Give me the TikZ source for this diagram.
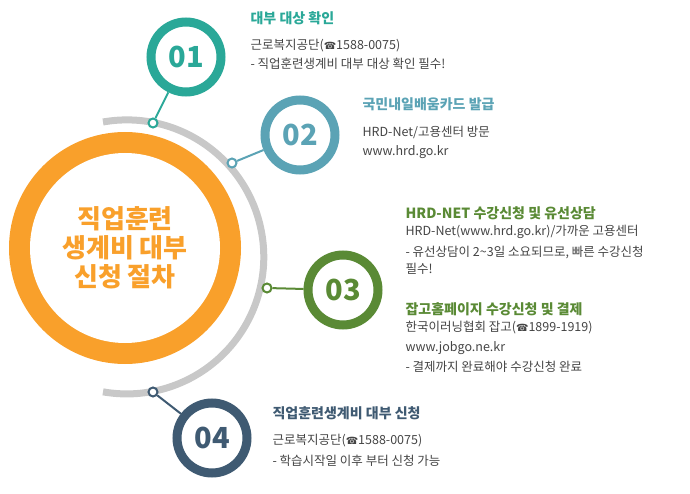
\documentclass[tikz,border=0pt]{standalone}
\usepackage{fontspec}
\setmainfont{Noto Sans CJK KR}
\newfontfamily\phonefont{DejaVu Sans}
\newfontfamily\heavyfont{Noto Sans CJK KR Black}
\definecolor{cteal}{HTML}{2AA898}
\definecolor{cblue}{HTML}{5BA3B5}
\definecolor{cgreen}{HTML}{5A8A35}
\definecolor{cnavy}{HTML}{3F5A72}
\definecolor{corange}{HTML}{F9A02B}
\definecolor{cgray}{HTML}{C8C8C8}
\definecolor{ctext}{HTML}{444444}
\newcommand{\ph}{{\phonefont\fontsize{10}{10}\selectfont☎}}
\begin{document}
\begin{tikzpicture}[x=1pt,y=-1pt,
 ring/.style={circle,line width=9pt,minimum size=70pt,inner sep=0pt,fill=white,font=\bfseries\fontsize{29}{29}\selectfont},
 dot/.style={circle,draw=#1,line width=2pt,fill=white,minimum size=9pt,inner sep=0pt},
 ttl/.style={anchor=west,font=\bfseries\fontsize{14}{16}\selectfont,text=#1},
 body/.style={anchor=west,font=\fontsize{12.5}{14}\selectfont,text=ctext}]
\useasboundingbox (0,0) rectangle (690,494);
\draw[cgray,line width=7pt] (103,122) arc[start angle=-100,end angle=100,radius=137] ;
\node[circle,fill=corange,minimum size=232pt,inner sep=0pt] (big) at (125,248) {};
\node[circle,fill=white,minimum size=190pt,inner sep=0pt,
 align=center,text=corange,font=\heavyfont\fontsize{26}{29}\selectfont] (bigin) at (125,248) {직업훈련\\생계비 대부\\신청 절차};
% circles
\node[ring,draw=cteal,text=cteal] (c1) at (186,57) {01};
\node[ring,draw=cblue,text=cblue] (c2) at (300,135) {02};
\node[ring,draw=cgreen,text=cgreen] (c3) at (343,290) {03};
\node[ring,draw=cnavy,text=cnavy] (c4) at (212,438) {04};
\node[dot=cteal] (d1) at (153,123) {};
\node[dot=cblue] (d2) at (232,163) {};
\node[dot=cgreen] (d3) at (267,288) {};
\node[dot=cnavy] (d4) at (153,392) {};
\draw[cteal,line width=2pt] (d1) -- (c1);
\draw[cblue,line width=2pt] (d2) -- (c2);
\draw[cgreen,line width=2pt] (d3) -- (c3);
\draw[cnavy,line width=2pt] (d4) -- (c4);
% texts
\node[ttl=cteal] (t1) at (247,18) {대부 대상 확인};
\node[body] (t1a) at (247,46) {근로복지공단(\ph1588-0075)};
\node[body] (t1b) at (247,64) {- 직업훈련생계비 대부 대상 확인 필수!};
\node[ttl=cblue] (t2) at (359,104) {국민내일배움카드 발급};
\node[body] (t2a) at (359,132) {HRD-Net/고용센터 방문};
\node[body] (t2b) at (359,152) {www.hrd.go.kr};
\node[ttl=cgreen] (t3) at (402,213) {HRD-NET 수강신청 및 유선상담};
\node[body] (t3a) at (402,232) {HRD-Net(www.hrd.go.kr)/가까운 고용센터};
\node[body] (t3b) at (402,252) {- 유선상담이 2\textasciitilde3일 소요되므로, 빠른 수강신청};
\node[body] (t3c) at (402,269) {필수!};
\node[ttl=cgreen] (t5) at (402,309) {잡고홈페이지 수강신청 및 결제};
\node[body] (t5a) at (402,328) {한국이러닝협회 잡고(\ph1899-1919)};
\node[body] (t5b) at (402,348) {www.jobgo.ne.kr};
\node[body] (t5c) at (402,367) {- 결제까지 완료해야 수강신청 완료};
\node[ttl=cnavy] (t4) at (269,413) {직업훈련생계비 대부 신청};
\node[body] (t4a) at (269,441) {근로복지공단(\ph1588-0075)};
\node[body] (t4b) at (269,461) {- 학습시작일 이후 부터 신청 가능};
\end{tikzpicture}
\end{document}
